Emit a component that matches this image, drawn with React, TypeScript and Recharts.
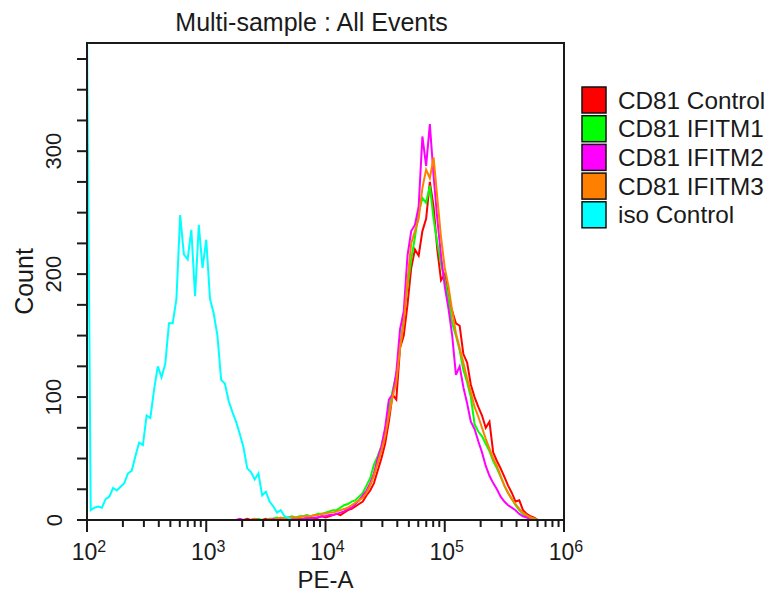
import { LineChart, Line, XAxis, YAxis, ReferenceArea } from 'recharts';

// Histogram channels: 32 per decade, from 10^2 to 10^6
const CHANNELS_PER_DECADE = 32;
const CHANNEL_COUNT = 128;

// Count per channel, iso control starts at channel 0
const isoControl = [
  400, 8, 10, 11, 10, 17, 19, 26, 24, 27, 30, 38, 40, 52, 63, 61, 85, 83, 106, 125,
  116, 127, 160, 160, 180, 248, 216, 212, 236, 182, 240, 205, 228, 180, 168, 150, 114, 111, 97, 88,
  80, 70, 59, 42, 39, 33, 38, 20, 23, 15, 11, 6, 8, 3, 2, 0, 0,
];

// CD81 series start at channel 40
const CD81_START = 40;
const cd81Control = [
  0, 0, 0, 1, 0, 0, 0, 0, 1, 0,
  0, 1, 0, 1, 1, 0, 1, 1, 0, 1,
  2, 1, 2, 3, 2, 3, 4, 5, 4, 6,
  8, 9, 11, 13, 15, 20, 24, 30, 40, 50,
  62, 80, 102, 98, 140, 150, 175, 205, 220, 215,
  235, 245, 275, 255, 220, 195, 200, 180, 170, 160,
  158, 135, 128, 110, 100, 92, 85, 75, 80, 55,
  48, 42, 35, 28, 22, 15, 16, 8, 5, 3,
  2, 0,
];
const cd81Ifitm1 = [
  0, 0, 0, 0, 0, 0, 1, 0, 0, 1,
  1, 2, 1, 2, 2, 3, 2, 3, 3, 4,
  3, 4, 5, 5, 6, 7, 8, 8, 10, 12,
  13, 15, 16, 19, 22, 28, 34, 45, 52, 60,
  72, 90, 105, 118, 140, 165, 190, 212, 230, 250,
  262, 258, 272, 245, 225, 208, 195, 180, 160, 150,
  138, 122, 112, 100, 78, 72, 68, 62, 56, 48,
  42, 35, 28, 22, 17, 12, 8, 5, 3, 2,
  1, 0,
];
const cd81Ifitm2 = [
  0, 1, 0, 0, 0, 1, 0, 0, 0, 0,
  1, 0, 1, 0, 1, 1, 1, 0, 1, 2,
  1, 2, 2, 3, 3, 4, 4, 5, 6, 7,
  9, 10, 13, 16, 20, 24, 30, 38, 50, 60,
  75, 98, 102, 120, 155, 170, 215, 235, 240, 255,
  312, 288, 322, 280, 245, 215, 190, 172, 150, 118,
  125, 108, 95, 80, 74, 64, 55, 44, 36, 30,
  25, 19, 15, 12, 10, 8, 5, 3, 2, 1,
  0, 0,
];
const cd81Ifitm3 = [
  0, 0, 0, 0, 0, 1, 0, 0, 0, 1,
  0, 1, 2, 1, 2, 2, 2, 2, 3, 3,
  3, 4, 4, 5, 5, 6, 6, 7, 8, 9,
  10, 12, 14, 16, 18, 22, 28, 36, 46, 56,
  68, 85, 100, 112, 140, 160, 195, 225, 235, 245,
  270, 285, 278, 295, 262, 230, 205, 190, 170, 152,
  140, 128, 115, 104, 92, 84, 75, 66, 58, 50,
  44, 36, 28, 22, 17, 13, 9, 6, 4, 2,
  1, 0,
];

const seriesNames = ['CD81 Control', 'CD81 IFITM1', 'CD81 IFITM2', 'CD81 IFITM3', 'iso Control'];
const seriesKeys = ['ctrl', 'ifitm1', 'ifitm2', 'ifitm3', 'iso'];
const seriesColors = ['#ff0000', '#00ff00', '#ff00ff', '#ff8000', '#00ffff'];

const xTicks = [
  100, 200, 300, 400, 500, 600, 700, 800, 900,
  1000, 2000, 3000, 4000, 5000, 6000, 7000, 8000, 9000,
  10000, 20000, 30000, 40000, 50000, 60000, 70000, 80000, 90000,
  100000, 200000, 300000, 400000, 500000, 600000, 700000, 800000, 900000,
  1000000,
];
const yTicks = [0, 25, 50, 75, 100, 125, 150, 175, 200, 225, 250, 275, 300, 325, 350, 375];
const yLabels = [0, 100, 200, 300];
const Y_MAX = 388;

const FONT = "'Liberation Sans', Arial, sans-serif";
const INK = '#1a1a1a';

function fromStart(values: number[], start: number, i: number) {
  const k = i - start;
  return k >= 0 && k < values.length ? values[k] : undefined;
}

const data = Array.from({ length: CHANNEL_COUNT }, (_, i) => ({
  pe: Math.pow(10, 2 + i / CHANNELS_PER_DECADE),
  iso: fromStart(isoControl, 0, i),
  ctrl: fromStart(cd81Control, CD81_START, i),
  ifitm1: fromStart(cd81Ifitm1, CD81_START, i),
  ifitm2: fromStart(cd81Ifitm2, CD81_START, i),
  ifitm3: fromStart(cd81Ifitm3, CD81_START, i),
}));

function PeTick(props: any) {
  const { x, y, payload } = props;
  const lg = Math.log10(payload.value);
  const exp = Math.round(lg);
  const major = Math.abs(lg - exp) < 1e-6;
  return (
    <g>
      <line x1={x} x2={x} y1={y} y2={y + (major ? 12 : 7)} stroke={INK} strokeWidth={2} />
      {major && (
        <text x={x + 2} y={y + 40} textAnchor="middle" fontSize={23} fontFamily={FONT} fill={INK}>
          10
          <tspan fontSize={16} dy={-8}>
            {exp}
          </tspan>
        </text>
      )}
    </g>
  );
}

function CountTick(props: any) {
  const { x, y, payload } = props;
  const show = yLabels.includes(payload.value);
  const lx = x - 33;
  return (
    <g>
      <line x1={x - 10} x2={x} y1={y} y2={y} stroke={INK} strokeWidth={2} />
      {show && (
        <text
          x={lx}
          y={y}
          transform={`rotate(-90, ${lx}, ${y})`}
          textAnchor="middle"
          dominantBaseline="central"
          fontSize={22}
          fontFamily={FONT}
          fill={INK}
        >
          {payload.value}
        </text>
      )}
    </g>
  );
}

export default function App() {
  return (
    <div style={{ position: 'absolute', left: 0, top: 0, width: 771, height: 595, background: '#fff' }}>
      <LineChart
        width={771}
        height={595}
        data={data}
        margin={{ top: 43, right: 207, bottom: 0, left: 0 }}
      >
        <XAxis
          dataKey="pe"
          type="number"
          scale="log"
          domain={[100, 1000000]}
          allowDataOverflow
          ticks={xTicks}
          interval={0}
          height={75}
          tickSize={0}
          tickMargin={0}
          tickLine={false}
          tick={<PeTick />}
          axisLine={{ stroke: INK, strokeWidth: 2 }}
          label={{
            content: (p: any) => (
              <text
                x={p.viewBox.x + p.viewBox.width / 2}
                y={p.viewBox.y + 68}
                textAnchor="middle"
                fontSize={24}
                fontFamily={FONT}
                fill={INK}
              >
                PE-A
              </text>
            ),
          }}
        />
        <YAxis
          type="number"
          domain={[0, Y_MAX]}
          allowDataOverflow
          ticks={yTicks}
          interval={0}
          width={87}
          tickSize={0}
          tickMargin={0}
          tickLine={false}
          tick={<CountTick />}
          axisLine={{ stroke: INK, strokeWidth: 2 }}
          label={{
            content: (p: any) => {
              const cx = p.viewBox.x + 24;
              const cy = p.viewBox.y + p.viewBox.height / 2;
              return (
                <text
                  x={cx}
                  y={cy}
                  transform={`rotate(-90, ${cx}, ${cy})`}
                  textAnchor="middle"
                  dominantBaseline="central"
                  fontSize={25}
                  fontFamily={FONT}
                  fill={INK}
                >
                  Count
                </text>
              );
            },
          }}
        />
        {seriesKeys.map((key, i) => (
          <Line
            key={key}
            type="linear"
            dataKey={key}
            name={seriesNames[i]}
            stroke={seriesColors[i]}
            strokeWidth={2}
            dot={false}
            activeDot={false}
            isAnimationActive={false}
          />
        ))}
        <ReferenceArea
          x1={100}
          x2={1000000}
          y1={0}
          y2={Y_MAX}
          fill="none"
          stroke={INK}
          strokeWidth={2}
        />
      </LineChart>

      {/* Title and legend */}
      <svg
        width={771}
        height={595}
        style={{ position: 'absolute', left: 0, top: 0, pointerEvents: 'none' }}
      >
        <text x={311.5} y={31} textAnchor="middle" fontSize={25} fontFamily={FONT} fill={INK}>
          Multi-sample : All Events
        </text>
        {seriesNames.map((name, i) => (
          <g key={name}>
            <rect
              x={582}
              y={87 + i * 28.7}
              width={24}
              height={26}
              fill={seriesColors[i]}
              stroke="#111"
              strokeWidth={1.5}
            />
            <text x={618} y={108.6 + i * 28.7} fontSize={24.3} fontFamily={FONT} fill={INK}>
              {name}
            </text>
          </g>
        ))}
      </svg>
    </div>
  );
}
